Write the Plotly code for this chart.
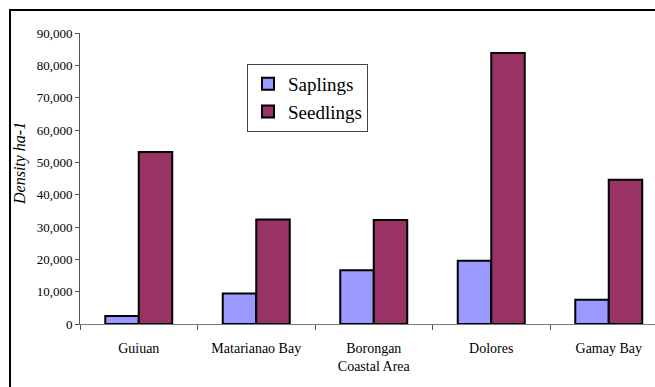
import plotly.graph_objects as go

categories = ["Guiuan", "Matarianao Bay", "Borongan<br>Coastal Area", "Dolores", "Gamay Bay"]
saplings = [2500, 9400, 16600, 19600, 7500]
seedlings = [53200, 32300, 32200, 83800, 44600]
y_ticks = [0, 10000, 20000, 30000, 40000, 50000, 60000, 70000, 80000, 90000]
y_tick_labels = ["0", "10,000", "20,000", "30,000", "40,000", "50,000", "60,000", "70,000", "80,000", "90,000"]

FONT = "Liberation Serif"

fig = go.Figure()
fig.add_trace(go.Bar(name="Saplings", x=categories, y=saplings,
                     marker=dict(color="#9999FF", line=dict(color="black", width=2))))
fig.add_trace(go.Bar(name="Seedlings", x=categories, y=seedlings,
                     marker=dict(color="#993366", line=dict(color="black", width=2))))

L, R, T, B = 80, 0, 33, 63
W, H = 655, 387
pw = W - L - R
ph = H - T - B

fig.update_layout(
    width=W, height=H,
    margin=dict(l=L, r=R, t=T, b=B, pad=0),
    paper_bgcolor="white", plot_bgcolor="white",
    barmode="group", bargap=0.43, bargroupgap=0,
    font=dict(family=FONT, color="black", size=13),
    showlegend=True,
    legend=dict(x=(247 - L) / pw, y=(T + ph - 64) / ph, xanchor="left", yanchor="top",
                bordercolor="#444", borderwidth=1, bgcolor="white",
                font=dict(family=FONT, size=19), itemwidth=30),
    xaxis=dict(range=[-0.5, -0.5 + pw / 117.5], showline=True, linecolor="#777", linewidth=1,
               ticks="outside", tickson="boundaries", ticklen=5, tickcolor="#555",
               showgrid=False, zeroline=False, tickfont=dict(size=14, family=FONT),
               ticklabelstandoff=11),
    yaxis=dict(range=[0, 90000], tickvals=y_ticks, ticktext=y_tick_labels,
               showline=True, linecolor="#555", linewidth=1, ticks="outside", ticklen=4,
               tickcolor="#555", showgrid=False, zeroline=False,
               tickfont=dict(size=13, family=FONT)),
    annotations=[dict(text="<i>Density ha-1</i>", xref="paper", yref="paper",
                      x=(20 - L) / pw, y=(T + ph - 164) / ph, textangle=-90,
                      showarrow=False, font=dict(family=FONT, size=16),
                      xanchor="center", yanchor="middle")],
    shapes=[
        dict(type="line", xref="paper", yref="paper",
             x0=(10 - L) / pw, x1=(10 - L) / pw, y0=(T + ph - 9) / ph, y1=(T + ph - 400) / ph,
             line=dict(color="black", width=2)),
        dict(type="line", xref="paper", yref="paper",
             x0=(9 - L) / pw, x1=(700 - L) / pw, y0=(T + ph - 10) / ph, y1=(T + ph - 10) / ph,
             line=dict(color="black", width=2)),
    ],
)

fig.write_html("out.html", config={"displayModeBar": False},
               post_script="document.body.style.margin='0';document.body.style.overflow='hidden';")
